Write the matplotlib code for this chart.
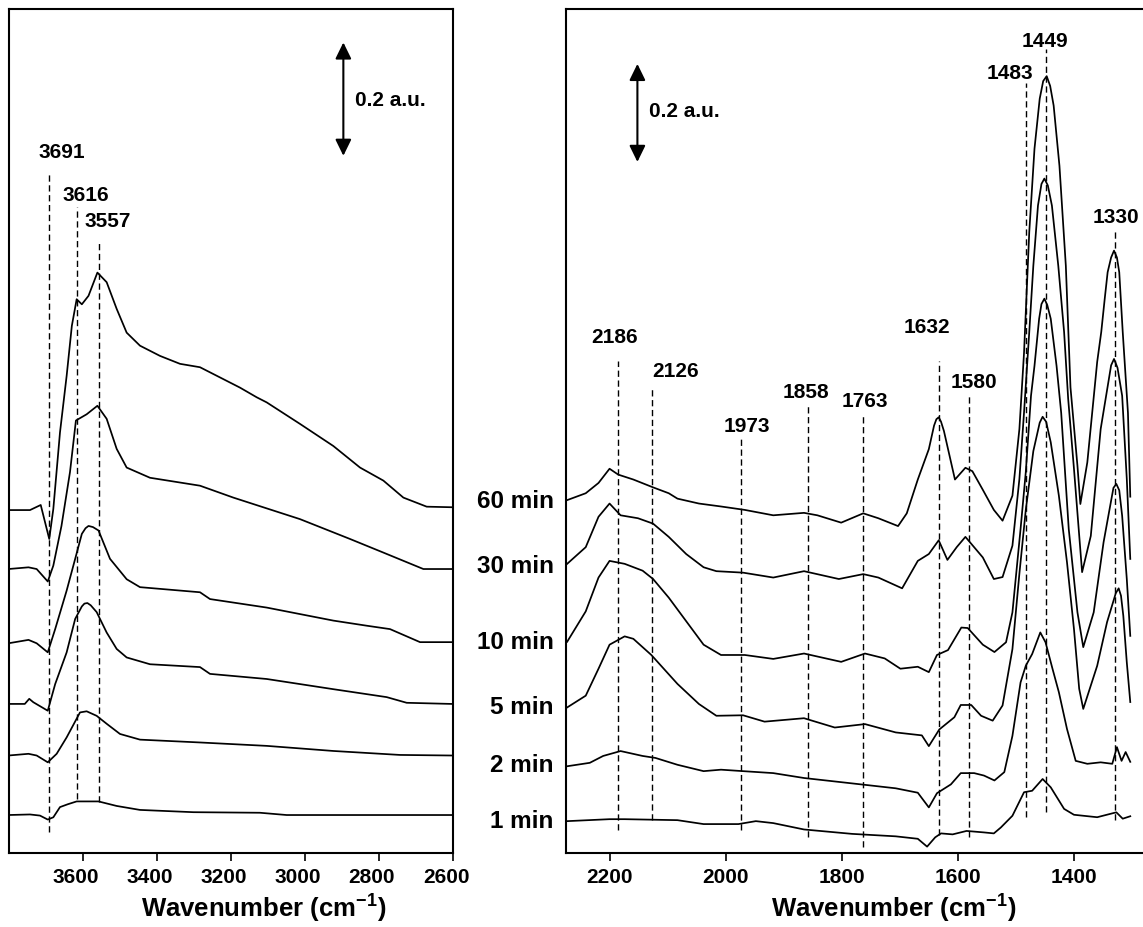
import matplotlib
matplotlib.use('Agg')
import matplotlib.pyplot as plt
from matplotlib.transforms import ScaledTranslation, blended_transform_factory

plt.rcParams['font.family'] = ['Liberation Sans', 'DejaVu Sans']
plt.rcParams['font.weight'] = 'bold'
plt.rcParams['mathtext.fontset'] = 'custom'
plt.rcParams['mathtext.rm'] = 'Liberation Sans:bold'
plt.rcParams['mathtext.bf'] = 'Liberation Sans:bold'
plt.rcParams['mathtext.default'] = 'rm'

# ---------------- data: left panel (OH region) ----------------
L_1MIN_WN = [3800, 3742, 3715, 3694, 3679, 3661, 3640, 3616, 3557, 3508, 3445, 3301, 3121, 3049, 2604]
L_1MIN_A = [0.067, 0.068, 0.066, 0.059, 0.063, 0.081, 0.086, 0.091, 0.091, 0.083, 0.076, 0.072, 0.071, 0.067, 0.067]

L_2MIN_WN = [3800, 3746, 3724, 3694, 3670, 3643, 3607, 3589, 3562, 3535, 3499, 3445, 3283, 3103, 2923, 2743, 2604]
L_2MIN_A = [0.172, 0.175, 0.172, 0.160, 0.175, 0.204, 0.248, 0.250, 0.242, 0.228, 0.210, 0.200, 0.195, 0.189, 0.180, 0.173, 0.172]

L_5MIN_WN = [3800, 3756, 3744, 3733, 3694, 3674, 3643, 3620, 3602, 3595, 3587, 3578, 3562, 3535, 3508, 3481, 3418, 3283,
             3256, 3103, 2923, 2779, 2725, 2604]
L_5MIN_A = [0.263, 0.263, 0.272, 0.266, 0.251, 0.298, 0.354, 0.413, 0.435, 0.440, 0.441, 0.437, 0.425, 0.389, 0.360, 0.345, 0.333, 0.328,
            0.316, 0.307, 0.289, 0.275, 0.265, 0.263]

L_10MIN_WN = [3800, 3746, 3724, 3694, 3674, 3643, 3620, 3602, 3592, 3584, 3572, 3557, 3526, 3481, 3445, 3283, 3256, 3103,
              2923, 2833, 2770, 2689, 2604]
L_10MIN_A = [0.370, 0.376, 0.370, 0.354, 0.395, 0.463, 0.519, 0.563, 0.573, 0.577, 0.575, 0.569, 0.519, 0.483, 0.469, 0.460, 0.448, 0.433,
             0.410, 0.401, 0.395, 0.372, 0.372]

L_30MIN_WN = [3800, 3746, 3724, 3694, 3679, 3657, 3634, 3618, 3589, 3560, 3535, 3508, 3481, 3418, 3283, 3193, 3013, 2878, 2788, 2680, 2604]
L_30MIN_A = [0.501, 0.504, 0.501, 0.479, 0.507, 0.577, 0.672, 0.763, 0.774, 0.789, 0.766, 0.713, 0.680, 0.662, 0.648, 0.627, 0.589, 0.554, 0.530, 0.501, 0.501]

L_60MIN_WN = [3800, 3742, 3713, 3690, 3679, 3661, 3643, 3629, 3616, 3602, 3584, 3560, 3535, 3508, 3481, 3445, 3391,
              3337, 3283, 3238, 3175, 3130, 3103, 3013, 2923, 2851, 2788, 2734, 2671, 2604]
L_60MIN_A = [0.605, 0.605, 0.614, 0.554, 0.607, 0.742, 0.842, 0.930, 0.977, 0.968, 0.983, 1.024, 1.007, 0.960, 0.918, 0.895, 0.877,
             0.863, 0.857, 0.842, 0.821, 0.804, 0.795, 0.757, 0.718, 0.680, 0.657, 0.627, 0.611, 0.610]

L_PEAKS = [3691, 3616, 3557]
L_PEAK_LINE_BOTTOM = [0.037, 0.095, 0.090]
L_PEAK_LINE_TOP = [1.198, 1.140, 1.081]
L_PEAK_LABEL_X = [3656, 3592, 3531]
L_PEAK_LABEL_Y = [1.238, 1.162, 1.115]

# ---------------- data: right panel ----------------
R_1MIN_WN = [2273, 2200, 2174, 2083, 2038, 1978, 1948, 1918, 1865, 1782, 1707, 1669, 1653, 1639, 1629, 1609, 1585, 1555,
             1538, 1526, 1506, 1486, 1472, 1454, 1440, 1417, 1400, 1360, 1327, 1316, 1303]
R_1MIN_A = [0.065, 0.069, 0.069, 0.067, 0.059, 0.059, 0.065, 0.061, 0.048, 0.039, 0.034, 0.029, 0.013, 0.032, 0.040, 0.038, 0.045, 0.042,
            0.040, 0.052, 0.076, 0.124, 0.127, 0.151, 0.134, 0.090, 0.078, 0.073, 0.083, 0.070, 0.075]

R_2MIN_WN = [2273, 2234, 2211, 2181, 2143, 2121, 2083, 2038, 2008, 1970, 1918, 1865, 1782, 1707, 1669, 1650, 1636, 1612,
             1595, 1572, 1555, 1537, 1520, 1506, 1492, 1483, 1472, 1458, 1449, 1437, 1426, 1412, 1397, 1377, 1354, 1334,
             1326, 1318, 1311, 1303]
R_2MIN_A = [0.177, 0.184, 0.198, 0.208, 0.198, 0.194, 0.180, 0.167, 0.170, 0.167, 0.163, 0.153, 0.142, 0.132, 0.123, 0.093, 0.122, 0.140,
            0.163, 0.163, 0.158, 0.148, 0.165, 0.239, 0.348, 0.382, 0.406, 0.450, 0.430, 0.376, 0.328, 0.253, 0.188, 0.182, 0.185, 0.182,
            0.216, 0.188, 0.206, 0.186]

R_5MIN_WN = [2273, 2241, 2219, 2200, 2174, 2159, 2128, 2083, 2046, 2016, 1970, 1933, 1865, 1812, 1760, 1707, 1662, 1650,
             1632, 1606, 1595, 1577, 1560, 1540, 1523, 1506, 1494, 1483, 1470, 1459, 1454, 1448, 1440, 1426, 1412, 1400,
             1391, 1384, 1360, 1343, 1328, 1323, 1319, 1315, 1309, 1303]
R_5MIN_A = [0.297, 0.321, 0.376, 0.425, 0.442, 0.437, 0.404, 0.345, 0.304, 0.280, 0.281, 0.268, 0.275, 0.256, 0.263, 0.246, 0.240, 0.218,
            0.252, 0.277, 0.302, 0.302, 0.280, 0.270, 0.301, 0.416, 0.570, 0.700, 0.820, 0.878, 0.890, 0.880, 0.838, 0.729, 0.593, 0.457,
            0.335, 0.294, 0.382, 0.471, 0.530, 0.540, 0.525, 0.484, 0.389, 0.308]

R_10MIN_WN = [2273, 2241, 2219, 2200, 2174, 2143, 2125, 2098, 2068, 2038, 2008, 1967, 1918, 1865, 1801, 1760, 1726, 1699,
              1669, 1650, 1636, 1617, 1594, 1583, 1557, 1537, 1517, 1506, 1492, 1483, 1474, 1468, 1460, 1456, 1451, 1446,
              1440, 1430, 1422, 1409, 1394, 1384, 1366, 1349, 1332, 1327, 1322, 1317, 1309, 1303]
R_10MIN_A = [0.431, 0.493, 0.562, 0.596, 0.590, 0.576, 0.559, 0.521, 0.473, 0.425, 0.404, 0.404, 0.396, 0.407, 0.390, 0.407, 0.397, 0.376,
             0.380, 0.369, 0.404, 0.414, 0.460, 0.459, 0.425, 0.410, 0.430, 0.491, 0.661, 0.777, 0.933, 0.994, 1.090, 1.120, 1.131, 1.118,
             1.090, 0.994, 0.898, 0.661, 0.491, 0.420, 0.491, 0.634, 0.745, 0.753, 0.740, 0.688, 0.559, 0.443]

R_30MIN_WN = [2273, 2241, 2219, 2200, 2181, 2151, 2125, 2098, 2068, 2038, 2016, 1970, 1918, 1865, 1805, 1763, 1737, 1696,
              1669, 1650, 1633, 1618, 1602, 1587, 1557, 1538, 1523, 1506, 1494, 1486, 1477, 1470, 1462, 1456, 1451, 1445,
              1438, 1427, 1417, 1410, 1400, 1386, 1371, 1354, 1336, 1331, 1325, 1317, 1309, 1303]
R_30MIN_A = [0.590, 0.624, 0.686, 0.713, 0.689, 0.683, 0.672, 0.645, 0.610, 0.583, 0.575, 0.572, 0.562, 0.575, 0.559, 0.569, 0.562, 0.540,
             0.596, 0.610, 0.638, 0.598, 0.624, 0.645, 0.603, 0.559, 0.563, 0.627, 0.763, 0.899, 1.063, 1.198, 1.321, 1.365, 1.376, 1.362,
             1.321, 1.198, 1.063, 0.927, 0.784, 0.573, 0.647, 0.865, 0.995, 1.008, 0.990, 0.933, 0.763, 0.600]

R_60MIN_WN = [2273, 2241, 2219, 2200, 2185, 2159, 2125, 2098, 2083, 2046, 2008, 1967, 1918, 1865, 1842, 1801, 1763, 1737,
              1703, 1688, 1669, 1650, 1641, 1637, 1633, 1629, 1624, 1605, 1587, 1575, 1557, 1538, 1523, 1506, 1494, 1486,
              1477, 1468, 1459, 1453, 1447, 1441, 1435, 1425, 1414, 1406, 1400, 1394, 1389, 1377, 1360, 1353, 1347, 1342,
              1336, 1331, 1326, 1322, 1316, 1307, 1303]
R_60MIN_A = [0.720, 0.734, 0.755, 0.784, 0.772, 0.762, 0.746, 0.734, 0.723, 0.713, 0.707, 0.700, 0.689, 0.694, 0.689, 0.674, 0.693, 0.683,
             0.667, 0.693, 0.762, 0.824, 0.872, 0.885, 0.889, 0.880, 0.861, 0.762, 0.786, 0.779, 0.741, 0.700, 0.678, 0.729, 0.865, 1.021,
             1.267, 1.437, 1.539, 1.575, 1.585, 1.565, 1.525, 1.402, 1.198, 0.950, 0.870, 0.790, 0.712, 0.797, 1.002, 1.063, 1.131, 1.185,
             1.215, 1.229, 1.215, 1.185, 1.063, 0.898, 0.727]

R_PEAKS = [2186, 2126, 1973, 1858, 1763, 1632, 1580, 1483, 1449, 1330]
R_PEAK_LINE_BOTTOM = [0.047, 0.067, 0.047, 0.033, 0.012, 0.036, 0.033, 0.073, 0.084, 0.067]
R_PEAK_LINE_TOP = [1.004, 0.947, 0.847, 0.912, 0.892, 1.004, 0.933, 1.570, 1.641, 1.274]
R_PEAK_LABEL_X = [2191, 2087, 1963, 1861, 1760, 1654, 1572, 1511, 1450, 1327]
R_PEAK_LABEL_Y = [1.053, 0.984, 0.872, 0.941, 0.923, 1.074, 0.961, 1.592, 1.657, 1.298]

TIME_LABELS = ['60 min', '30 min', '10 min', '5 min', '2 min', '1 min']
TIME_LABEL_Y = [0.720, 0.586, 0.431, 0.298, 0.180, 0.067]

LEFT_TICKS = [3600, 3400, 3200, 3000, 2800, 2600]
RIGHT_TICKS = [2200, 2000, 1800, 1600, 1400]

left_traces = [(L_1MIN_WN, L_1MIN_A), (L_2MIN_WN, L_2MIN_A), (L_5MIN_WN, L_5MIN_A),
               (L_10MIN_WN, L_10MIN_A), (L_30MIN_WN, L_30MIN_A), (L_60MIN_WN, L_60MIN_A)]
right_traces = [(R_1MIN_WN, R_1MIN_A), (R_2MIN_WN, R_2MIN_A), (R_5MIN_WN, R_5MIN_A),
                (R_10MIN_WN, R_10MIN_A), (R_30MIN_WN, R_30MIN_A), (R_60MIN_WN, R_60MIN_A)]

W, H = 1143, 928
fig = plt.figure(figsize=(W / 100, H / 100), dpi=100)
fig.patch.set_facecolor('white')
axL = fig.add_axes([8.5 / W, 74 / H, 444.5 / W, 844 / H])
axR = fig.add_axes([566 / W, 74 / H, 656 / W, 844 / H])

axL.set_xlim(3800, 2600)
axL.set_ylim(0, 1.489)
axR.set_xlim(2275, 1145)
axR.set_ylim(0, 1.722)

dash = (0, (4.5, 2.6))
for ax, traces in ((axL, left_traces), (axR, right_traces)):
    for wn, a in traces:
        ax.plot(wn, a, color='black', lw=1.25, solid_joinstyle='round')
    for sp in ax.spines.values():
        sp.set_linewidth(1.5)
    ax.set_yticks([])
    ax.tick_params(axis='x', direction='out', length=6, width=1.2, labelsize=15, pad=4, colors='black')

for x, y0, y1 in zip(L_PEAKS, L_PEAK_LINE_BOTTOM, L_PEAK_LINE_TOP):
    axL.plot([x, x], [y0, y1], color='black', lw=1.0, ls=dash)
for t, x, y in zip(L_PEAKS, L_PEAK_LABEL_X, L_PEAK_LABEL_Y):
    axL.text(x, y, str(t), ha='center', va='center', fontsize=15, fontweight='bold')

for x, y0, y1 in zip(R_PEAKS, R_PEAK_LINE_BOTTOM, R_PEAK_LINE_TOP):
    axR.plot([x, x], [y0, y1], color='black', lw=1.0, ls=dash)
for t, x, y in zip(R_PEAKS, R_PEAK_LABEL_X, R_PEAK_LABEL_Y):
    axR.text(x, y, str(t), ha='center', va='center', fontsize=15, fontweight='bold')

# scale bars
arrow_props = dict(arrowstyle='<|-|>,head_length=0.45,head_width=0.22', mutation_scale=22,
                   lw=1.5, color='black', shrinkA=0, shrinkB=0)
axL.annotate('', xy=(2896, 1.430), xytext=(2896, 1.230), arrowprops=arrow_props)
axL.text(2865, 1.330, '0.2 a.u.', ha='left', va='center', fontsize=15, fontweight='bold')
axR.annotate('', xy=(2152, 1.610), xytext=(2152, 1.410), arrowprops=arrow_props)
axR.text(2132, 1.514, '0.2 a.u.', ha='left', va='center', fontsize=15, fontweight='bold')

# time labels
trans = blended_transform_factory(axR.transAxes, axR.transData)
for lab, y in zip(TIME_LABELS, TIME_LABEL_Y):
    axR.text(-0.0188, y, lab, transform=trans, ha='right', va='center', fontsize=17.5,
             fontweight='bold', clip_on=False)

axL.set_xticks(LEFT_TICKS)
axR.set_xticks(RIGHT_TICKS)
for tick in axL.xaxis.get_major_ticks():
    tick.label1.set_transform(tick.label1.get_transform() + ScaledTranslation(-0.07, 0, fig.dpi_scale_trans))

fig.text(264 / W, 10 / H, r'Wavenumber (cm$^{-1}$)', ha='center', va='baseline', fontsize=18.5, fontweight='bold')
fig.text(894 / W, 10 / H, r'Wavenumber (cm$^{-1}$)', ha='center', va='baseline', fontsize=18.5, fontweight='bold')

fig.savefig('out.png', dpi=100, facecolor='white')
